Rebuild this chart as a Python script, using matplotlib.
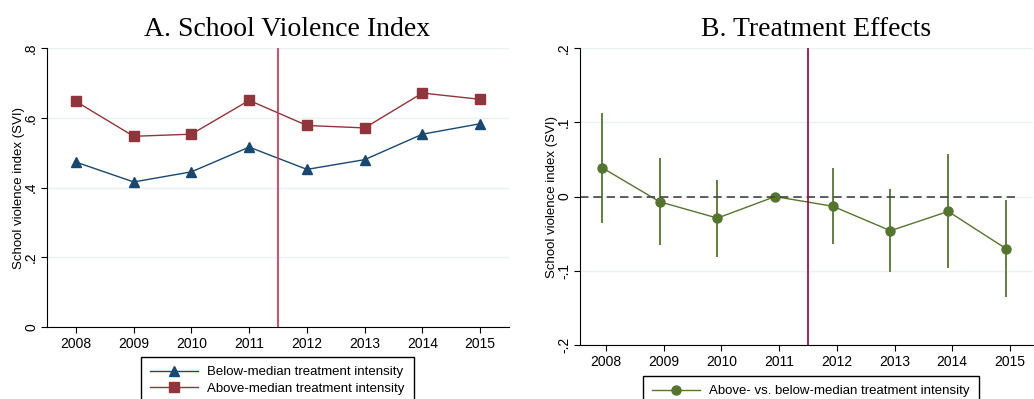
import matplotlib.pyplot as plt
from matplotlib.ticker import FuncFormatter

plt.rcParams['font.family'] = ['Liberation Sans', 'DejaVu Sans']

years = [2008, 2009, 2010, 2011, 2012, 2013, 2014, 2015]
below = [0.473, 0.416, 0.445, 0.516, 0.452, 0.480, 0.553, 0.583]
above = [0.647, 0.547, 0.553, 0.650, 0.578, 0.571, 0.671, 0.653]

effect = [0.039, -0.007, -0.029, 0.0, -0.013, -0.046, -0.020, -0.070]
ci_hi = [0.113, 0.052, 0.023, None, 0.039, 0.010, 0.057, -0.005]
ci_lo = [-0.035, -0.065, -0.081, None, -0.064, -0.101, -0.096, -0.135]

blue = '#1a476f'
red = '#90353b'
green = '#55752f'
grid_c = '#eaf2f3'


def stata_fmt(v, pos):
    s = ('%g' % round(v, 3))
    s = s.replace('0.', '.')
    return s


def style_ax(ax):
    ax.spines['top'].set_visible(False)
    ax.spines['right'].set_visible(False)
    ax.grid(axis='y', color=grid_c, lw=1)
    ax.set_axisbelow(True)
    ax.set_xticks(years)
    ax.tick_params(axis='both', labelsize=10, length=4, color='black')
    ax.tick_params(axis='y', pad=2.5)
    ax.yaxis.set_major_formatter(FuncFormatter(stata_fmt))
    ax.set_ylabel('School violence index (SVI)', fontsize=9.5, labelpad=-0.5)


def legend_at(ax, x, y):
    ax.legend(loc='upper left', bbox_to_anchor=(x / 1034, 1 - y / 399),
              bbox_transform=fig.transFigure, fancybox=False,
              edgecolor='black', fontsize=9.5, handlelength=3.6,
              handletextpad=0.7, borderpad=0.7, labelspacing=0.3,
              borderaxespad=0, framealpha=1)


fig = plt.figure(figsize=(10.34, 3.99), dpi=100)

# Panel A
ax1 = fig.add_axes([0.0455, 0.1805, 0.4468, 0.699])
ax1.plot(years, below, color=blue, lw=1, marker='^', ms=7,
         label='Below-median treatment intensity')
ax1.plot(years, above, color=red, lw=1, marker='s', ms=7,
         label='Above-median treatment intensity')
ax1.axvline(2011.5, color='#d62c4f', lw=1.2)
ax1.set_xlim(2007.5, 2015.5)
ax1.set_ylim(0, 0.8)
ax1.set_yticks([0, 0.2, 0.4, 0.6, 0.8])
style_ax(ax1)
for lab in ax1.get_yticklabels():
    lab.set_rotation(90)
    lab.set_va('center')
ax1.set_title('A. School Violence Index', family='Liberation Serif',
              fontsize=20, pad=9, x=0.52)
legend_at(ax1, 141, 357)

# Panel B
off = -0.07
xs = [y + off for y in years]
ax2 = fig.add_axes([0.561, 0.1353, 0.438, 0.744])
for x, lo, hi in zip(xs, ci_lo, ci_hi):
    if lo is not None:
        ax2.vlines(x, lo, hi, color=green, lw=1.3)
ax2.plot(xs, effect, color=green, lw=1, marker='o', ms=6.5,
         label='Above- vs. below-median treatment intensity')
ax2.axhline(0, color='#444444', lw=1.2, ls=(0, (5, 3)), xmax=0.97)
ax2.axvline(2011.5, color='#990033', lw=1.2)
ax2.set_xlim(2007.55, 2015.4)
ax2.set_ylim(-0.2, 0.2)
ax2.set_yticks([-0.2, -0.1, 0, 0.1, 0.2])
style_ax(ax2)
for lab in ax2.get_yticklabels():
    lab.set_rotation(90)
    lab.set_va('center')
ax2.set_title('B. Treatment Effects', family='Liberation Serif',
              fontsize=20, pad=9, x=0.52)
legend_at(ax2, 643, 376)

fig.savefig('out.png', dpi=100)
